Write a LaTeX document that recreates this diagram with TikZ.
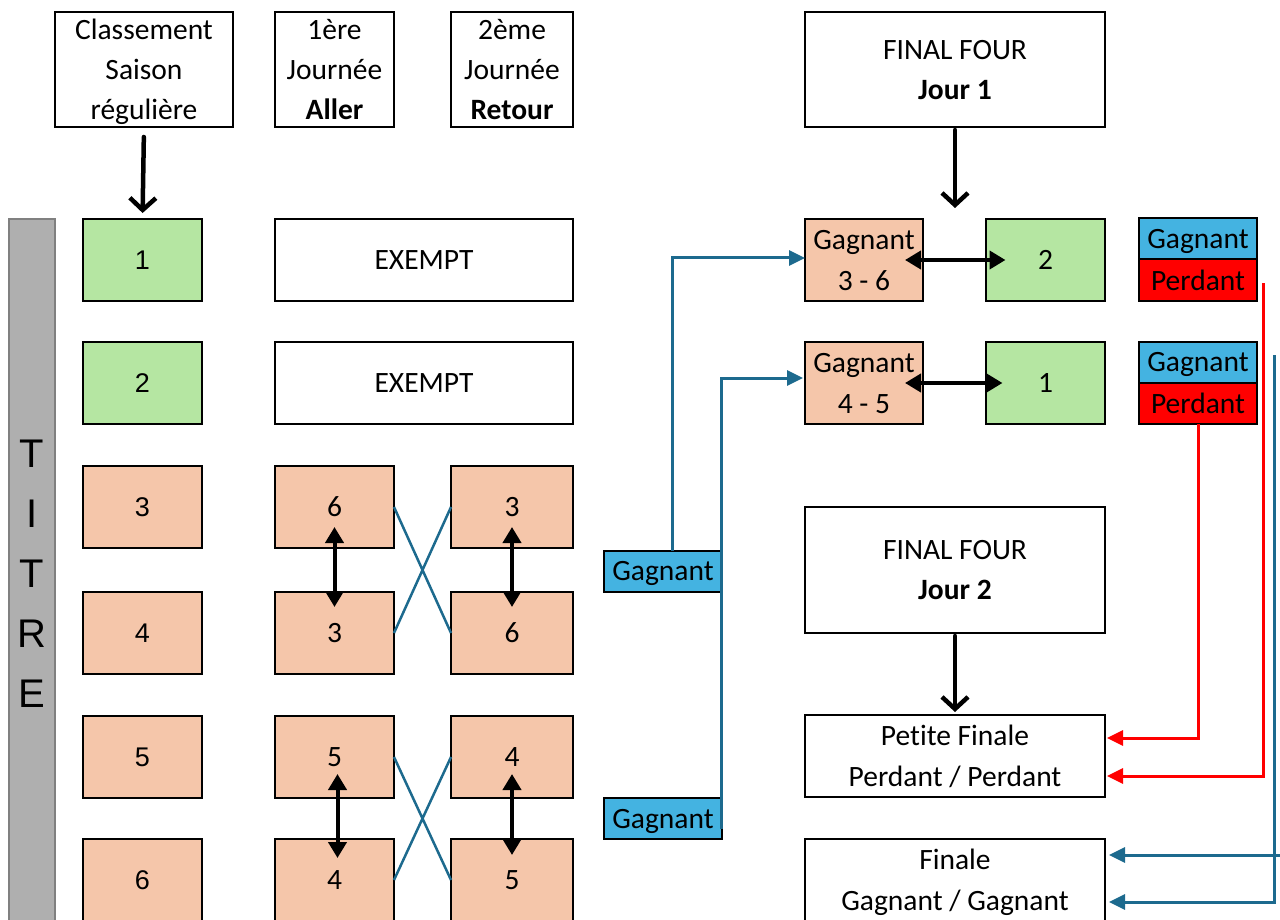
\documentclass[tikz,border=0pt]{standalone}
\usepackage{fontspec}
\setmainfont[Ligatures=NoCommon]{Carlito}
\newfontfamily\arialfont{Liberation Sans}
\usetikzlibrary{arrows.meta}
\definecolor{saumon}{HTML}{F5C6AA}
\definecolor{vert}{HTML}{B5E6A2}
\definecolor{bleu}{HTML}{44B3E1}
\definecolor{fleche}{HTML}{1D6A8E}
\definecolor{gris}{HTML}{AFAFAF}

\begin{document}
\begin{tikzpicture}[x=1pt, y=-1pt,
	font=\fontsize{29.5}{41}\selectfont,
	box/.style={draw, line width=2pt, inner sep=0pt, outer sep=0pt, align=center, minimum height=82pt, text depth=-2pt},
	hdr/.style={box, minimum height=115pt, font=\fontsize{29.5}{40}\selectfont},
	small/.style={box, minimum width=119pt},
	wide/.style={box, minimum width=300pt},
	num/.style={small, font=\arialfont\fontsize{27}{30}\selectfont},
	lbl/.style={draw, line width=2pt, inner sep=0pt, outer sep=0pt, minimum width=118pt, minimum height=41pt, text depth=-3pt},
	down/.style={line width=4.5pt, line cap=round, -{Straight Barb[length=12pt, width=26pt]}},
	dbl/.style={line width=4pt, {Triangle[length=16pt, width=18pt]}-{Triangle[length=16pt, width=18pt]}},
	bl/.style={draw=fleche, line width=3pt, -{Triangle[length=16pt, width=15pt]}},
	rd/.style={draw=red, line width=3pt, -{Triangle[length=16pt, width=15pt]}}]
\useasboundingbox (0,0) rectangle (1280,920);

% en-tetes
\node [hdr, minimum width=178pt] (cls) at (144,69.5) {Classement\\Saison\\régulière};
\node [hdr, minimum width=119pt] (aller) at (334.5,69.5) {1ère\\Journée\\\textbf{Aller}};
\node [hdr, minimum width=122pt] (retour) at (512,69.5) {2ème\\Journée\\\textbf{Retour}};
\node [hdr, minimum width=300pt, minimum height=115pt] (ff1) at (955,69.5) {FINAL FOUR\\\textbf{Jour 1}};

% titre
\node [draw=gray, fill=gris, line width=1.5pt, minimum width=46pt, minimum height=710pt, inner sep=0pt,
	align=center, font=\arialfont\fontsize{40}{60}\selectfont] (titre) at (32,574) {T\\I\\T\\R\\E};

% classement
\node [num, fill=vert] (c1) at (142.5,260) {1};
\node [num, fill=vert] (c2) at (142.5,383) {2};
\node [num, fill=saumon] (c3) at (142.5,507) {3};
\node [num, fill=saumon] (c4) at (142.5,633) {4};
\node [num, fill=saumon] (c5) at (142.5,757) {5};
\node [num, fill=saumon] (c6) at (142.5,880) {6};

% aller / retour
\node [box, minimum width=298pt] (ex1) at (424,260) {EXEMPT};
\node [box, minimum width=298pt] (ex2) at (424,383) {EXEMPT};
\node [small, fill=saumon] (a3) at (334.5,507) {6};
\node [small, fill=saumon] (a4) at (334.5,633) {3};
\node [small, fill=saumon] (a5) at (334.5,757) {5};
\node [small, fill=saumon] (a6) at (334.5,880) {4};
\node [box, minimum width=122pt, fill=saumon] (b3) at (512,507) {3};
\node [box, minimum width=122pt, fill=saumon] (b4) at (512,633) {6};
\node [box, minimum width=122pt, fill=saumon] (b5) at (512,757) {4};
\node [box, minimum width=122pt, fill=saumon] (b6) at (512,880) {5};

\node [lbl, fill=bleu] (gw1) at (663,571) {Gagnant};
\node [lbl, fill=bleu] (gw2) at (663,818.5) {Gagnant};

% final four
\node [small, fill=saumon, minimum width=118pt] (g36) at (864,260) {Gagnant\\3 - 6};
\node [small, fill=vert] (f2) at (1045.5,260) {2};
\node [small, fill=saumon, minimum width=118pt] (g45) at (864,383) {Gagnant\\4 - 5};
\node [small, fill=vert] (f1) at (1045.5,383) {1};

\node [lbl, fill=bleu] (gn1) at (1198,239) {Gagnant};
\node [lbl, fill=red] (pd1) at (1198,280) {Perdant};
\node [lbl, fill=bleu] (gn2) at (1198,362) {Gagnant};
\node [lbl, fill=red] (pd2) at (1198,403) {Perdant};

\node [hdr, minimum width=300pt, minimum height=126pt] (ff2) at (955,570) {FINAL FOUR\\\textbf{Jour 2}};
\node [wide] (pf) at (955,756) {Petite Finale\\Perdant / Perdant};
\node [wide] (fin) at (955,880) {Finale\\Gagnant / Gagnant};

% fleches
\draw [down, shorten <=10pt, shorten >=6pt] (cls.south) -- (c1.north);
\draw [down, shorten <=3pt, shorten >=11pt] (ff1.south) -- (ff1.south |- g36.north);
\draw [down, shorten <=3pt, shorten >=3pt] (ff2.south) -- (pf.north);

\draw [dbl, shorten <=20pt, shorten >=26pt] (a3.center) -- (a4.center);
\draw [dbl, shorten <=20pt, shorten >=26pt] (b3.center) -- (b4.center);
\draw [dbl, shorten <=17pt, shorten >=22pt] ([xshift=3pt]a5.center) -- ([xshift=3pt]a6.center);
\draw [dbl, shorten <=17pt, shorten >=25pt] (b5.center) -- (b6.center);
\draw [dbl, shorten <=41pt, shorten >=40pt] (g36.center) -- (f2.center);
\draw [dbl, shorten <=41pt, shorten >=43pt] (g45.center) -- (f1.center);

\draw [fleche, line width=2.5pt] (a3.east) -- (b4.west) (a4.east) -- (b3.west);
\draw [fleche, line width=2.5pt] (a5.east) -- (b6.west) (a6.east) -- (b5.west);

\draw [bl] ([xshift=9pt]gw1.north) |- ([yshift=2pt]g36.west);
\draw [bl] ([xshift=-1pt, yshift=-10pt]gw2.east) |- ([yshift=5pt, xshift=-2pt]g45.west);

\coordinate (r1) at ([xshift=6pt, yshift=-3pt]pd1.east);
\draw [rd] (pd2.south) |- ([yshift=18pt, xshift=2pt]pf.east);
\draw [rd] (r1) |- ([yshift=-20pt, xshift=2pt]pf.east);

\coordinate (v2) at (1274,355);
\coordinate (v1) at (1292,855);
\draw [bl] (v2) |- ([yshift=-22pt, xshift=4pt]fin.east);
\draw [bl] (v1) -- ([yshift=25pt, xshift=4pt]fin.east);
\end{tikzpicture}
\end{document}
